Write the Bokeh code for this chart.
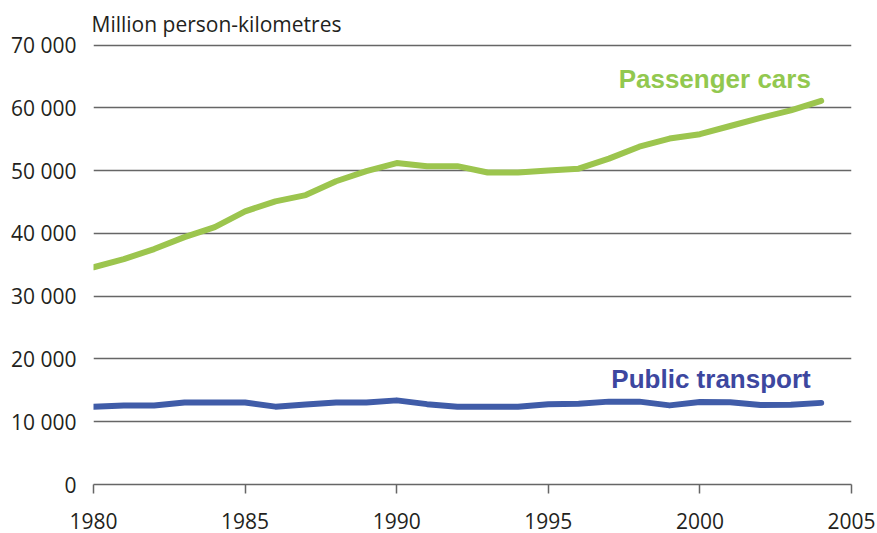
from bokeh.plotting import figure
from bokeh.models import Range1d, Label, FixedTicker, CustomJSTickFormatter
from bokeh.embed import file_html
from bokeh.resources import INLINE

years = list(range(1980, 2005))
passenger_cars = [34600, 35900, 37500, 39400, 41000, 43500, 45100, 46100, 48300, 49900,
                  51200, 50700, 50700, 49700, 49700, 50000, 50300, 51900, 53800, 55100,
                  55800, 57100, 58400, 59600, 61100]
public_transport = [12400, 12600, 12600, 13050, 13050, 13050, 12400, 12750, 13050, 13050,
                    13400, 12800, 12400, 12400, 12400, 12800, 12850, 13200, 13200, 12600,
                    13150, 13100, 12650, 12700, 13000]
x_ticks = [1980, 1985, 1990, 1995, 2000, 2005]
y_ticks = [0, 10000, 20000, 30000, 40000, 50000, 60000, 70000]
y_title = "Million person-kilometres"
label_cars = "Passenger cars"
label_public = "Public transport"

GREEN = "#9CC54E"
GREEN_TXT = "#92C84F"
BLUE = "#405CA8"
BLUE_TXT = "#3D479F"
GRID = "#666666"
TXT = "#231F20"

p = figure(width=877, height=533, output_backend="svg", toolbar_location=None,
           x_range=Range1d(1980, 2005), y_range=Range1d(0, 70400),
           min_border_left=93, min_border_right=26, min_border_top=42, min_border_bottom=49,
           title=y_title)
p.outline_line_color = None
p.background_fill_color = "white"
p.border_fill_color = "white"

p.title.align = "left"
p.title.offset = -2
p.title.text_font = "Open Sans"
p.title.text_font_size = "21px"
p.title.text_font_style = "normal"
p.title.text_color = TXT
p.title.standoff = 9

# axes
p.xaxis.ticker = FixedTicker(ticks=x_ticks)
p.xaxis.axis_line_color = GRID
p.xaxis.axis_line_width = 1.5
p.xaxis.major_tick_line_color = GRID
p.xaxis.major_tick_line_width = 1.5
p.xaxis.major_tick_in = 0
p.xaxis.major_tick_out = 9
p.xaxis.minor_tick_line_color = None
p.xaxis.major_label_standoff = 19
p.xaxis.major_label_text_font = "Open Sans"
p.xaxis.major_label_text_font_size = "21px"
p.xaxis.major_label_text_color = TXT

p.yaxis.ticker = FixedTicker(ticks=y_ticks)
p.yaxis.formatter = CustomJSTickFormatter(code="""
    if (tick == 0) return '0';
    var s = Math.round(tick).toString();
    return s.slice(0, s.length - 3) + ' ' + s.slice(s.length - 3);
""")
p.yaxis.axis_line_color = None
p.yaxis.major_tick_line_color = None
p.yaxis.minor_tick_line_color = None
p.yaxis.major_label_standoff = 11
p.yaxis.major_label_text_font = "Open Sans"
p.yaxis.major_label_text_font_size = "21px"
p.yaxis.major_label_text_color = TXT

p.xgrid.grid_line_color = None
p.ygrid.ticker = FixedTicker(ticks=y_ticks[1:])
p.ygrid.grid_line_color = GRID
p.ygrid.grid_line_width = 1.5

# series
p.line(years, passenger_cars, line_color=GREEN, line_width=6, line_cap="round", line_join="round")
p.line(years, public_transport, line_color=BLUE, line_width=6, line_cap="round", line_join="round")

# texts
p.add_layout(Label(x=1997.32, y=64660, text=label_cars, text_font="Liberation Sans",
                   text_font_size="26px", text_font_style="bold", text_color=GREEN_TXT,
                   text_baseline="alphabetic"))
p.add_layout(Label(x=1997.08, y=16730, text=label_public, text_font="Liberation Sans",
                   text_font_size="26px", text_font_style="bold", text_color=BLUE_TXT,
                   text_baseline="alphabetic"))

open("out.html", "w").write(file_html(p, INLINE))
